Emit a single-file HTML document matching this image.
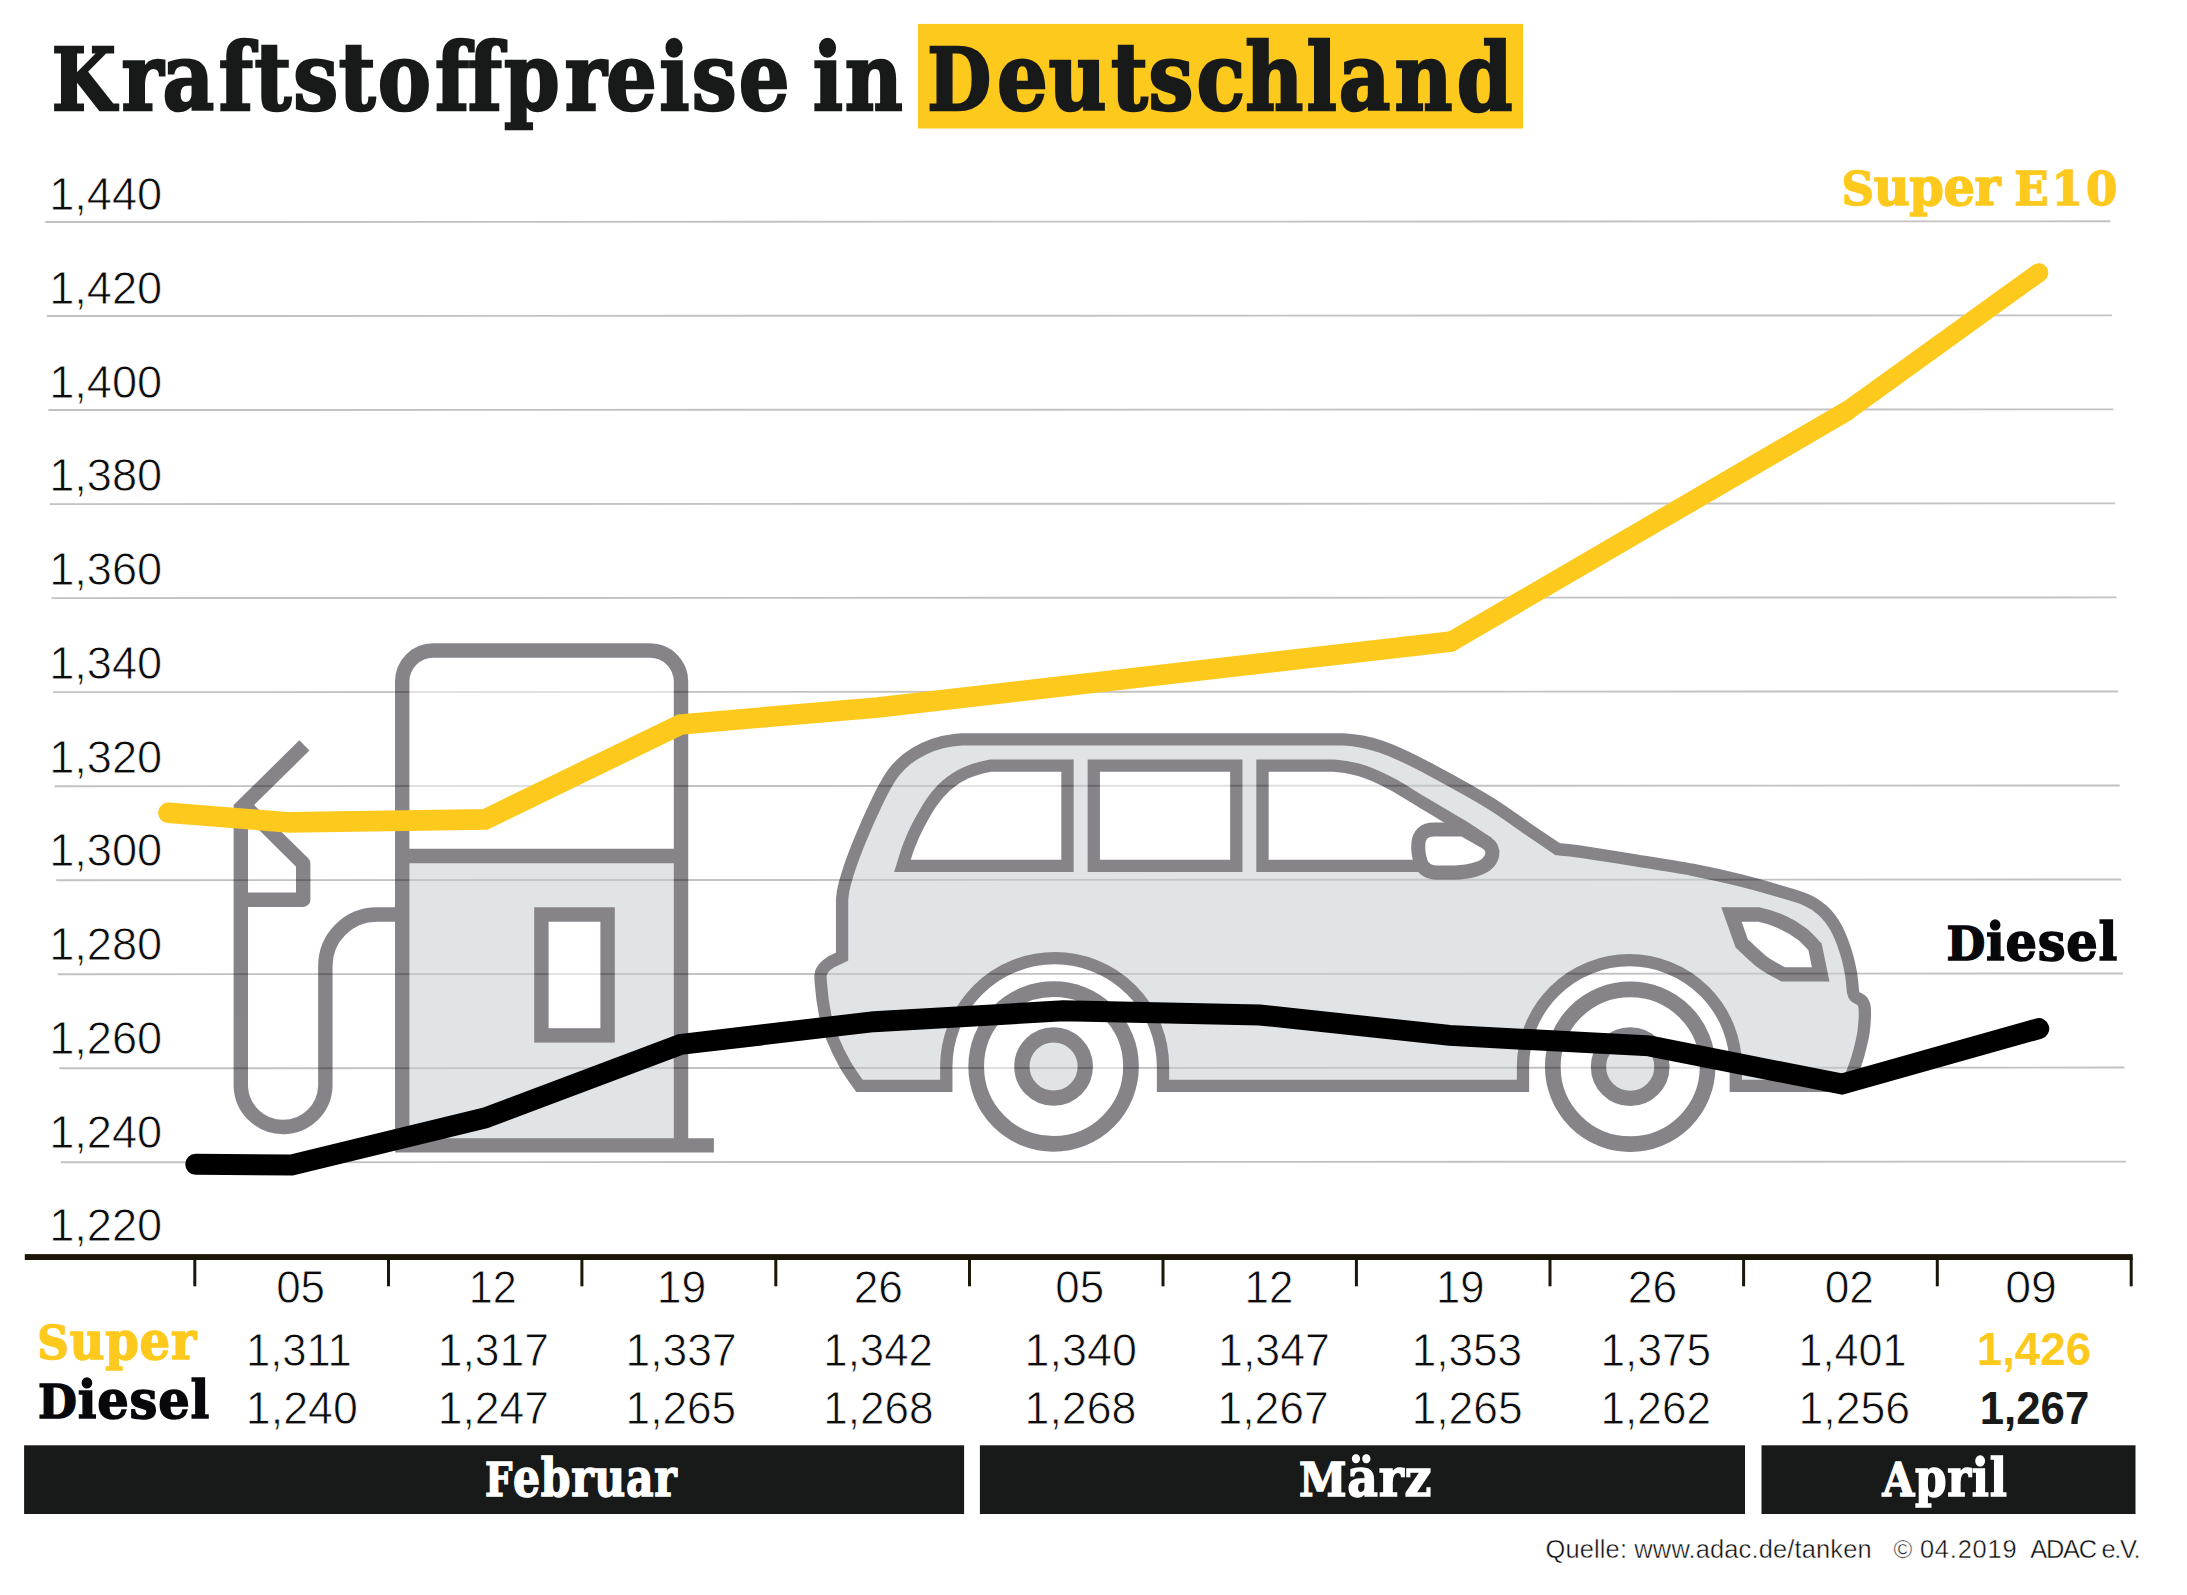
<!DOCTYPE html>
<html lang="de"><head><meta charset="utf-8"><title>Kraftstoffpreise in Deutschland</title>
<style>
html,body{margin:0;padding:0;background:#fff;}
body{width:2187px;height:1595px;font-family:'Liberation Sans','DejaVu Sans',sans-serif;}
svg{display:block}
text{white-space:pre}
</style></head><body>
<svg width="2187" height="1595" viewBox="0 0 2187 1595">
<rect width="2187" height="1595" fill="#fff"/>
<rect x="918" y="23.9" width="605" height="104.6" fill="#fec91d"/>
<g stroke="#c2c2c3" stroke-width="1.9" fill="none"><line x1="45.2" y1="222.00" x2="2110.3" y2="221.30"/><line x1="46.8" y1="316.03" x2="2111.9" y2="315.33"/><line x1="48.3" y1="410.06" x2="2113.4" y2="409.36"/><line x1="49.9" y1="504.09" x2="2115.0" y2="503.39"/><line x1="51.5" y1="598.12" x2="2116.6" y2="597.42"/><line x1="53.1" y1="692.15" x2="2118.2" y2="691.45"/><line x1="54.6" y1="786.18" x2="2119.7" y2="785.48"/><line x1="56.2" y1="880.21" x2="2121.3" y2="879.51"/><line x1="57.8" y1="974.24" x2="2122.9" y2="973.54"/><line x1="59.3" y1="1068.27" x2="2124.4" y2="1067.57"/><line x1="60.9" y1="1162.30" x2="2126.0" y2="1161.60"/></g>
<g opacity="0.5">
<path d="M402.2,856 V681.5 A31,31 0 0 1 433.2,650.5 H650 A31,31 0 0 1 681,681.5 V856 Z" fill="#fff"/>
<path d="M402.2,856 H681 V1145.4 H402.2 Z" fill="#c5cbd1"/>
<g fill="none" stroke="#0f0915" stroke-width="14.4" stroke-linejoin="miter">
<path d="M402.2,1145.4 V681.5 A31,31 0 0 1 433.2,650.5 H650 A31,31 0 0 1 681,681.5 V1145.4"/>
<path d="M402.2,856 H681"/>
<path d="M395.2,1145.4 H713.9"/>
<rect x="541.4" y="914.5" width="66.2" height="120.9" fill="#fff"/>
<path d="M402.2,914.5 H376.85 A51.5,51.5 0 0 0 325.35,966 V1086.2 A42.3,42.3 0 0 1 240.8,1086.2 V808 L304.4,745.4" stroke-miterlimit="10"/>
<path d="M240.8,802 L303.2,863.5 V899.7 H240.8" stroke-linejoin="round"/>
</g>
<path d="M859.5,1085.9 C857.1,1082.4 849.8,1072.7 845.2,1064.6 C840.6,1056.5 835.3,1045.4 832.0,1037.2 C828.7,1029.0 827.1,1024.4 825.2,1015.2 C823.3,1006.1 821.3,989.7 820.8,982.3 C820.2,974.9 820.3,974.1 821.9,970.8 C823.5,967.5 826.7,964.9 830.1,962.6 C833.5,960.3 840.1,957.8 842.1,956.8 L842.1,900 C842.4,896.5 842.5,893.7 843.6,888.7 C844.7,883.7 846.8,876.5 848.9,869.9 C851.0,863.3 853.6,856.4 856.4,849.2 C859.2,842.0 862.7,833.8 865.8,826.6 C868.9,819.4 872.1,812.5 875.2,805.9 C878.3,799.3 881.5,792.7 884.6,787.1 C887.7,781.5 890.2,776.8 894.0,772.1 C897.8,767.4 902.2,762.8 907.2,758.9 C912.2,755.0 918.2,751.4 924.1,748.6 C930.0,745.8 936.6,743.5 942.9,742.0 C949.2,740.5 955.2,739.8 961.7,739.3 L1343.3,739.3 C1349.8,739.7 1355.8,740.4 1362.1,741.6 C1368.4,742.8 1374.3,744.5 1380.9,746.7 C1387.5,749.0 1393.1,751.2 1401.6,755.1 C1410.1,759.0 1420.4,764.2 1431.7,770.2 C1443.0,776.2 1458.3,784.6 1469.3,790.9 C1480.3,797.2 1488.1,801.7 1497.5,807.8 C1506.9,813.9 1515.7,820.6 1525.7,827.5 C1535.7,834.4 1552.4,845.6 1557.7,849.2 C1561.4,849.6 1566.9,849.7 1580.0,851.6 C1593.1,853.5 1617.6,857.5 1636.4,860.5 C1655.2,863.5 1675.5,866.6 1692.8,869.9 C1710.0,873.2 1725.8,876.8 1739.9,880.3 C1754.0,883.8 1766.5,887.4 1777.5,890.6 C1788.5,893.8 1798.2,896.3 1805.7,899.6 C1813.2,902.9 1817.6,905.8 1822.6,910.4 C1827.6,915.0 1832.0,920.7 1835.8,927.3 C1839.6,933.9 1842.7,942.4 1845.2,949.9 C1847.7,957.4 1849.5,965.5 1850.8,972.4 C1852.1,979.3 1852.6,988.1 1852.9,991.2 C1853.2,992.1 1853.5,994.9 1855.0,996.5 C1856.5,998.1 1860.5,998.9 1862.1,1001.0 C1863.7,1003.1 1864.5,1004.0 1864.8,1009.1 C1865.0,1014.2 1864.7,1023.8 1863.6,1031.6 C1862.5,1039.4 1860.0,1048.9 1858.0,1056.1 C1856.0,1063.3 1853.2,1069.9 1851.4,1074.9 C1849.6,1079.9 1847.7,1084.1 1847.0,1085.9 H1735.8 V1066.5 A106.40,106.40 0 0 0 1523.0,1066.5 V1085.9 H1163.0 V1066.5 A108.35,108.35 0 0 0 946.3,1066.5 V1085.9 Z" fill="#c5cbd1"/>
<g fill="#fff" stroke="#0f0915" stroke-width="12.3" stroke-linejoin="miter">
<path d="M859.5,1085.9 C857.1,1082.4 849.8,1072.7 845.2,1064.6 C840.6,1056.5 835.3,1045.4 832.0,1037.2 C828.7,1029.0 827.1,1024.4 825.2,1015.2 C823.3,1006.1 821.3,989.7 820.8,982.3 C820.2,974.9 820.3,974.1 821.9,970.8 C823.5,967.5 826.7,964.9 830.1,962.6 C833.5,960.3 840.1,957.8 842.1,956.8 L842.1,900 C842.4,896.5 842.5,893.7 843.6,888.7 C844.7,883.7 846.8,876.5 848.9,869.9 C851.0,863.3 853.6,856.4 856.4,849.2 C859.2,842.0 862.7,833.8 865.8,826.6 C868.9,819.4 872.1,812.5 875.2,805.9 C878.3,799.3 881.5,792.7 884.6,787.1 C887.7,781.5 890.2,776.8 894.0,772.1 C897.8,767.4 902.2,762.8 907.2,758.9 C912.2,755.0 918.2,751.4 924.1,748.6 C930.0,745.8 936.6,743.5 942.9,742.0 C949.2,740.5 955.2,739.8 961.7,739.3 L1343.3,739.3 C1349.8,739.7 1355.8,740.4 1362.1,741.6 C1368.4,742.8 1374.3,744.5 1380.9,746.7 C1387.5,749.0 1393.1,751.2 1401.6,755.1 C1410.1,759.0 1420.4,764.2 1431.7,770.2 C1443.0,776.2 1458.3,784.6 1469.3,790.9 C1480.3,797.2 1488.1,801.7 1497.5,807.8 C1506.9,813.9 1515.7,820.6 1525.7,827.5 C1535.7,834.4 1552.4,845.6 1557.7,849.2 C1561.4,849.6 1566.9,849.7 1580.0,851.6 C1593.1,853.5 1617.6,857.5 1636.4,860.5 C1655.2,863.5 1675.5,866.6 1692.8,869.9 C1710.0,873.2 1725.8,876.8 1739.9,880.3 C1754.0,883.8 1766.5,887.4 1777.5,890.6 C1788.5,893.8 1798.2,896.3 1805.7,899.6 C1813.2,902.9 1817.6,905.8 1822.6,910.4 C1827.6,915.0 1832.0,920.7 1835.8,927.3 C1839.6,933.9 1842.7,942.4 1845.2,949.9 C1847.7,957.4 1849.5,965.5 1850.8,972.4 C1852.1,979.3 1852.6,988.1 1852.9,991.2 C1853.2,992.1 1853.5,994.9 1855.0,996.5 C1856.5,998.1 1860.5,998.9 1862.1,1001.0 C1863.7,1003.1 1864.5,1004.0 1864.8,1009.1 C1865.0,1014.2 1864.7,1023.8 1863.6,1031.6 C1862.5,1039.4 1860.0,1048.9 1858.0,1056.1 C1856.0,1063.3 1853.2,1069.9 1851.4,1074.9 C1849.6,1079.9 1847.7,1084.1 1847.0,1085.9 H1735.8 V1066.5 A106.40,106.40 0 0 0 1523.0,1066.5 V1085.9 H1163.0 V1066.5 A108.35,108.35 0 0 0 946.3,1066.5 V1085.9 Z" fill="none"/>
<path d="M902.5,865.8 C904.1,860.7 906.4,852.2 909.1,845.4 C911.8,838.5 914.7,831.9 918.5,824.7 C922.3,817.5 927.0,808.8 931.7,802.2 C936.4,795.6 941.1,790.1 946.7,785.2 C952.3,780.3 958.3,776.2 965.5,773.0 C972.7,769.8 981.8,767.2 990.0,765.7 H1067.5 V865.8 Z"/><path d="M1093.8,765.6 H1236.3 V865.9 H1093.8 Z"/>
<path d="M1262.5,865.8 V765.7 H1333.9 C1341.0,766.3 1349.5,767.5 1356.4,769.2 C1363.3,770.9 1368.9,773.1 1375.2,775.8 C1381.5,778.5 1386.2,780.8 1394.0,785.2 C1401.8,789.6 1412.8,796.6 1422.2,802.2 C1431.6,807.9 1442.7,814.4 1450.5,819.1 C1458.3,823.8 1463.0,826.4 1469.3,830.4 C1475.5,834.4 1484.9,840.9 1488.0,843.0 L1470,865.8 Z" stroke="none"/><path d="M1425,865.8 H1262.5 V765.7 H1333.9 C1341.0,766.3 1349.5,767.5 1356.4,769.2 C1363.3,770.9 1368.9,773.1 1375.2,775.8 C1381.5,778.5 1386.2,780.8 1394.0,785.2 C1401.8,789.6 1412.8,796.6 1422.2,802.2 C1431.6,807.9 1442.7,814.4 1450.5,819.1 C1458.3,823.8 1463.0,826.4 1469.3,830.4 C1475.5,834.4 1484.9,840.9 1488.0,843.0" fill="none"/>
<path d="M1731.4,914.5 H1758.7 C1766.1,915.9 1775.9,919.4 1783.1,922.6 C1790.3,925.8 1796.6,929.8 1801.9,933.9 C1807.2,938.0 1812.9,944.8 1815.1,947.0 L1820.7,974.3 H1783.1 C1779.6,972.3 1769.3,967.3 1762.4,962.1 C1755.5,956.9 1745.2,946.4 1741.7,943.3 Z" stroke-width="14.3"/>
<path d="M1434,829.6 H1463.6 L1486.5,842.8 Q1493.5,847.5 1492.2,855 Q1490,865 1477,869 Q1467,872.4 1455,872.4 H1436 Q1425,872.4 1421,863 Q1417.6,853 1418.3,844 Q1419.5,829.6 1434,829.6 Z" stroke-width="14"/>
<circle cx="1053.6" cy="1066.5" r="77.4" stroke-width="15.7"/><circle cx="1053.6" cy="1066.5" r="31.7" stroke-width="15.3" fill="#c5cbd1"/>
<circle cx="1630.2" cy="1066.7" r="77.4" stroke-width="15.7"/><circle cx="1630.2" cy="1066.7" r="31.7" stroke-width="15.3" fill="#c5cbd1"/>
</g>
</g>
<g fill="none" stroke="#fec91d" stroke-linecap="round" stroke-linejoin="miter"><polyline points="168.4,812.8 289.5,822.4 485.1,819.4 680.5,724.5 878,707.4 1451.5,641.4" stroke-width="20.6"/><polyline points="1451.5,641.4 1847,411" stroke-width="19.8"/><polyline points="1847,411 2038.8,272.7" stroke-width="19.0"/></g>
<polyline points="195.7,1164.3 291.7,1165 485,1118 680.5,1044.4 874,1021.7 1063.3,1010.8 1259.7,1015 1449.6,1035.4 1649.3,1045.9 1842,1084.1 2038.8,1028.6" fill="none" stroke="#000" stroke-width="20.9" stroke-linecap="round" stroke-linejoin="miter"/>
<rect x="24.8" y="1254.1" width="2107.8999999999996" height="5.9" fill="#1c1608"/><rect x="193.3" y="1257" width="3" height="29.3" fill="#1c1608"/><rect x="387.0" y="1257" width="3" height="29.3" fill="#1c1608"/><rect x="580.4" y="1257" width="3" height="29.3" fill="#1c1608"/><rect x="774.3" y="1257" width="3" height="29.3" fill="#1c1608"/><rect x="968.0" y="1257" width="3" height="29.3" fill="#1c1608"/><rect x="1161.5" y="1257" width="3" height="29.3" fill="#1c1608"/><rect x="1354.9" y="1257" width="3" height="29.3" fill="#1c1608"/><rect x="1548.5" y="1257" width="3" height="29.3" fill="#1c1608"/><rect x="1742.1" y="1257" width="3" height="29.3" fill="#1c1608"/><rect x="1935.8" y="1257" width="3" height="29.3" fill="#1c1608"/><rect x="2129.7" y="1257" width="3" height="29.3" fill="#1c1608"/>
<rect x="24.1" y="1445.3" width="940.0" height="68.7" fill="#171a19"/><rect x="979.9" y="1445.3" width="765.1" height="68.7" fill="#171a19"/><rect x="1761.5" y="1445.3" width="374.0" height="68.7" fill="#171a19"/>
<text transform="matrix(0.858 0 0 1 0 109.90)" x="60.3 141.5 189.5 255.0 296.6 341.7 394.7 440.2 507.1 545.2 587.4 658.1 706.2 768.4 806.3 861.0 924.8 947.2 984.7 1059.5 1080.7 1162.1 1221.9 1294.9 1338.6 1394.6 1451.3 1522.6 1560.2 1625.2 1698.0" font-family="'DejaVu Serif','Liberation Serif',serif" font-weight="bold" stroke-width="2.6" stroke-linejoin="miter" font-size="93.0" fill="#171a19" stroke="#171a19"><tspan font-size="86.0">K</tspan>raftstoffpreise in <tspan font-size="86.0">D</tspan>eutschland</text>
<text transform="matrix(0.9712 0 0 1 49.20 210.20)" font-family="'Liberation Sans','DejaVu Sans',sans-serif" font-weight="normal" font-size="46.5" stroke-width="0.79" fill="#0c0c0c" stroke="#fff">1,440</text>
<text transform="matrix(0.9712 0 0 1 49.20 303.95)" font-family="'Liberation Sans','DejaVu Sans',sans-serif" font-weight="normal" font-size="46.5" stroke-width="0.79" fill="#0c0c0c" stroke="#fff">1,420</text>
<text transform="matrix(0.9712 0 0 1 49.20 397.70)" font-family="'Liberation Sans','DejaVu Sans',sans-serif" font-weight="normal" font-size="46.5" stroke-width="0.79" fill="#0c0c0c" stroke="#fff">1,400</text>
<text transform="matrix(0.9712 0 0 1 49.20 491.45)" font-family="'Liberation Sans','DejaVu Sans',sans-serif" font-weight="normal" font-size="46.5" stroke-width="0.79" fill="#0c0c0c" stroke="#fff">1,380</text>
<text transform="matrix(0.9712 0 0 1 49.20 585.20)" font-family="'Liberation Sans','DejaVu Sans',sans-serif" font-weight="normal" font-size="46.5" stroke-width="0.79" fill="#0c0c0c" stroke="#fff">1,360</text>
<text transform="matrix(0.9712 0 0 1 49.20 678.95)" font-family="'Liberation Sans','DejaVu Sans',sans-serif" font-weight="normal" font-size="46.5" stroke-width="0.79" fill="#0c0c0c" stroke="#fff">1,340</text>
<text transform="matrix(0.9712 0 0 1 49.20 772.70)" font-family="'Liberation Sans','DejaVu Sans',sans-serif" font-weight="normal" font-size="46.5" stroke-width="0.79" fill="#0c0c0c" stroke="#fff">1,320</text>
<text transform="matrix(0.9712 0 0 1 49.20 866.45)" font-family="'Liberation Sans','DejaVu Sans',sans-serif" font-weight="normal" font-size="46.5" stroke-width="0.79" fill="#0c0c0c" stroke="#fff">1,300</text>
<text transform="matrix(0.9712 0 0 1 49.20 960.20)" font-family="'Liberation Sans','DejaVu Sans',sans-serif" font-weight="normal" font-size="46.5" stroke-width="0.79" fill="#0c0c0c" stroke="#fff">1,280</text>
<text transform="matrix(0.9712 0 0 1 49.20 1053.95)" font-family="'Liberation Sans','DejaVu Sans',sans-serif" font-weight="normal" font-size="46.5" stroke-width="0.79" fill="#0c0c0c" stroke="#fff">1,260</text>
<text transform="matrix(0.9712 0 0 1 49.20 1147.70)" font-family="'Liberation Sans','DejaVu Sans',sans-serif" font-weight="normal" font-size="46.5" stroke-width="0.79" fill="#0c0c0c" stroke="#fff">1,240</text>
<text transform="matrix(0.9712 0 0 1 49.20 1241.45)" font-family="'Liberation Sans','DejaVu Sans',sans-serif" font-weight="normal" font-size="46.5" stroke-width="0.79" fill="#0c0c0c" stroke="#fff">1,220</text>
<text transform="matrix(0.9481 0 0 1 1946.38 960.30)" font-family="'DejaVu Serif','Liberation Serif',serif" font-weight="bold" font-size="52.2" stroke-width="1.5" stroke-linejoin="miter" letter-spacing="0.8" fill="#08080c" stroke="#08080c"><tspan font-size="47.2">D</tspan>iesel</text>
<text transform="matrix(0.9213 0 0 1 37.43 1358.75)" font-family="'DejaVu Serif','Liberation Serif',serif" font-weight="bold" font-size="52.2" stroke-width="1.5" stroke-linejoin="miter" letter-spacing="0.8" fill="#fec91d" stroke="#fec91d"><tspan font-size="47.2">S</tspan>uper</text>
<text transform="matrix(0.9492 0 0 1 38.08 1417.65)" font-family="'DejaVu Serif','Liberation Serif',serif" font-weight="bold" font-size="52.2" stroke-width="1.5" stroke-linejoin="miter" letter-spacing="0.8" fill="#08080c" stroke="#08080c"><tspan font-size="47.2">D</tspan>iesel</text>
<text transform="matrix(0.8162 0 0 1 485.08 1495.85)" font-family="'DejaVu Serif','Liberation Serif',serif" font-weight="bold" font-size="52.2" stroke-width="1.5" stroke-linejoin="miter" letter-spacing="0.8" fill="#ffffff" stroke="#ffffff"><tspan font-size="47.2">F</tspan>ebruar</text>
<text transform="matrix(0.9094 0 0 1 1299.06 1495.85)" font-family="'DejaVu Serif','Liberation Serif',serif" font-weight="bold" font-size="52.2" stroke-width="1.5" stroke-linejoin="miter" letter-spacing="0.8" fill="#ffffff" stroke="#ffffff"><tspan font-size="47.2">M</tspan>ärz</text>
<text transform="matrix(0.8667 0 0 1 1882.57 1495.85)" font-family="'DejaVu Serif','Liberation Serif',serif" font-weight="bold" font-size="52.2" stroke-width="1.5" stroke-linejoin="miter" letter-spacing="0.8" fill="#ffffff" stroke="#ffffff"><tspan font-size="47.2">A</tspan>pril</text>
<text transform="matrix(0.9508 0 0 1 276.14 1302.90)" font-family="'Liberation Sans','DejaVu Sans',sans-serif" font-weight="normal" font-size="46.3" stroke-width="0.79" fill="#0c0c0c" stroke="#fff">05</text>
<text transform="matrix(0.9311 0 0 1 468.84 1302.90)" font-family="'Liberation Sans','DejaVu Sans',sans-serif" font-weight="normal" font-size="46.3" stroke-width="0.79" fill="#0c0c0c" stroke="#fff">12</text>
<text transform="matrix(0.9617 0 0 1 656.73 1302.90)" font-family="'Liberation Sans','DejaVu Sans',sans-serif" font-weight="normal" font-size="46.3" stroke-width="0.79" fill="#0c0c0c" stroke="#fff">19</text>
<text transform="matrix(0.9587 0 0 1 853.64 1302.90)" font-family="'Liberation Sans','DejaVu Sans',sans-serif" font-weight="normal" font-size="46.3" stroke-width="0.79" fill="#0c0c0c" stroke="#fff">26</text>
<text transform="matrix(0.9487 0 0 1 1055.34 1302.90)" font-family="'Liberation Sans','DejaVu Sans',sans-serif" font-weight="normal" font-size="46.3" stroke-width="0.79" fill="#0c0c0c" stroke="#fff">05</text>
<text transform="matrix(0.9486 0 0 1 1244.48 1302.90)" font-family="'Liberation Sans','DejaVu Sans',sans-serif" font-weight="normal" font-size="46.3" stroke-width="0.79" fill="#0c0c0c" stroke="#fff">12</text>
<text transform="matrix(0.9421 0 0 1 1435.90 1302.90)" font-family="'Liberation Sans','DejaVu Sans',sans-serif" font-weight="normal" font-size="46.3" stroke-width="0.79" fill="#0c0c0c" stroke="#fff">19</text>
<text transform="matrix(0.9608 0 0 1 1627.74 1302.90)" font-family="'Liberation Sans','DejaVu Sans',sans-serif" font-weight="normal" font-size="46.3" stroke-width="0.79" fill="#0c0c0c" stroke="#fff">26</text>
<text transform="matrix(0.9558 0 0 1 1824.73 1302.90)" font-family="'Liberation Sans','DejaVu Sans',sans-serif" font-weight="normal" font-size="46.3" stroke-width="0.79" fill="#0c0c0c" stroke="#fff">02</text>
<text transform="matrix(1.0042 0 0 1 2005.24 1302.90)" font-family="'Liberation Sans','DejaVu Sans',sans-serif" font-weight="normal" font-size="46.3" stroke-width="0.79" fill="#0c0c0c" stroke="#fff">09</text>
<text transform="matrix(0.9424 0 0 1 245.90 1365.50)" font-family="'Liberation Sans','DejaVu Sans',sans-serif" font-weight="normal" font-size="46.3" stroke-width="0.79" fill="#0c0c0c" stroke="#fff">1,311</text>
<text transform="matrix(0.9609 0 0 1 437.64 1365.50)" font-family="'Liberation Sans','DejaVu Sans',sans-serif" font-weight="normal" font-size="46.3" stroke-width="0.79" fill="#0c0c0c" stroke="#fff">1,317</text>
<text transform="matrix(0.9591 0 0 1 625.54 1365.50)" font-family="'Liberation Sans','DejaVu Sans',sans-serif" font-weight="normal" font-size="46.3" stroke-width="0.79" fill="#0c0c0c" stroke="#fff">1,337</text>
<text transform="matrix(0.9455 0 0 1 823.29 1365.50)" font-family="'Liberation Sans','DejaVu Sans',sans-serif" font-weight="normal" font-size="46.3" stroke-width="0.79" fill="#0c0c0c" stroke="#fff">1,342</text>
<text transform="matrix(0.9701 0 0 1 1024.60 1365.50)" font-family="'Liberation Sans','DejaVu Sans',sans-serif" font-weight="normal" font-size="46.3" stroke-width="0.79" fill="#0c0c0c" stroke="#fff">1,340</text>
<text transform="matrix(0.9664 0 0 1 1218.02 1365.50)" font-family="'Liberation Sans','DejaVu Sans',sans-serif" font-weight="normal" font-size="46.3" stroke-width="0.79" fill="#0c0c0c" stroke="#fff">1,347</text>
<text transform="matrix(0.9524 0 0 1 1411.67 1365.50)" font-family="'Liberation Sans','DejaVu Sans',sans-serif" font-weight="normal" font-size="46.3" stroke-width="0.79" fill="#0c0c0c" stroke="#fff">1,353</text>
<text transform="matrix(0.9538 0 0 1 1600.56 1365.50)" font-family="'Liberation Sans','DejaVu Sans',sans-serif" font-weight="normal" font-size="46.3" stroke-width="0.79" fill="#0c0c0c" stroke="#fff">1,375</text>
<text transform="matrix(0.9327 0 0 1 1798.54 1365.50)" font-family="'Liberation Sans','DejaVu Sans',sans-serif" font-weight="normal" font-size="46.3" stroke-width="0.79" fill="#0c0c0c" stroke="#fff">1,401</text>
<text transform="matrix(1.0046 0 0 1 1976.74 1365.20)" font-family="'Liberation Sans','DejaVu Sans',sans-serif" font-weight="bold" font-size="45.5" stroke-width="0" fill="#fec91d">1,426</text>
<text transform="matrix(0.9665 0 0 1 245.82 1424.30)" font-family="'Liberation Sans','DejaVu Sans',sans-serif" font-weight="normal" font-size="46.3" stroke-width="0.79" fill="#0c0c0c" stroke="#fff">1,240</text>
<text transform="matrix(0.9609 0 0 1 437.64 1424.30)" font-family="'Liberation Sans','DejaVu Sans',sans-serif" font-weight="normal" font-size="46.3" stroke-width="0.79" fill="#0c0c0c" stroke="#fff">1,247</text>
<text transform="matrix(0.9548 0 0 1 625.56 1424.30)" font-family="'Liberation Sans','DejaVu Sans',sans-serif" font-weight="normal" font-size="46.3" stroke-width="0.79" fill="#0c0c0c" stroke="#fff">1,265</text>
<text transform="matrix(0.9515 0 0 1 823.27 1424.30)" font-family="'Liberation Sans','DejaVu Sans',sans-serif" font-weight="normal" font-size="46.3" stroke-width="0.79" fill="#0c0c0c" stroke="#fff">1,268</text>
<text transform="matrix(0.9651 0 0 1 1024.62 1424.30)" font-family="'Liberation Sans','DejaVu Sans',sans-serif" font-weight="normal" font-size="46.3" stroke-width="0.79" fill="#0c0c0c" stroke="#fff">1,268</text>
<text transform="matrix(0.9618 0 0 1 1217.43 1424.30)" font-family="'Liberation Sans','DejaVu Sans',sans-serif" font-weight="normal" font-size="46.3" stroke-width="0.79" fill="#0c0c0c" stroke="#fff">1,267</text>
<text transform="matrix(0.9575 0 0 1 1411.65 1424.30)" font-family="'Liberation Sans','DejaVu Sans',sans-serif" font-weight="normal" font-size="46.3" stroke-width="0.79" fill="#0c0c0c" stroke="#fff">1,265</text>
<text transform="matrix(0.9536 0 0 1 1600.56 1424.30)" font-family="'Liberation Sans','DejaVu Sans',sans-serif" font-weight="normal" font-size="46.3" stroke-width="0.79" fill="#0c0c0c" stroke="#fff">1,262</text>
<text transform="matrix(0.9642 0 0 1 1798.43 1424.30)" font-family="'Liberation Sans','DejaVu Sans',sans-serif" font-weight="normal" font-size="46.3" stroke-width="0.79" fill="#0c0c0c" stroke="#fff">1,256</text>
<text transform="matrix(0.9624 0 0 1 1979.75 1424.00)" font-family="'Liberation Sans','DejaVu Sans',sans-serif" font-weight="bold" font-size="45.5" stroke-width="0" fill="#171a19">1,267</text>
<text transform="matrix(0.9487 0 0 1 0 205.05)" font-family="'DejaVu Serif','Liberation Serif',serif" font-weight="bold" font-size="52.2" stroke-width="1.5" stroke-linejoin="miter" letter-spacing="0.8" fill="#fec91d" stroke="#fec91d"><tspan x="1941.43" letter-spacing="-0.490"><tspan font-size="47.2">S</tspan>uper</tspan> <tspan x="2123.48" letter-spacing="3.381"><tspan font-size="47.2">E10</tspan></tspan></text>
<text transform="matrix(0.9599 0 0 1 0 1558.30)" font-family="'Liberation Sans','DejaVu Sans',sans-serif" font-weight="normal" font-size="26.5" stroke-width="0.45" fill="#0c0c0c" stroke="#fff"><tspan x="1610.03" letter-spacing="0.161">Quelle: www.adac.de/tanken</tspan> <tspan x="1972.57">©</tspan> <tspan x="2000.13" letter-spacing="0.825">04.2019</tspan> <tspan x="2115.06" letter-spacing="-1.350">ADAC e.V.</tspan></text>
</svg>
</body></html>
